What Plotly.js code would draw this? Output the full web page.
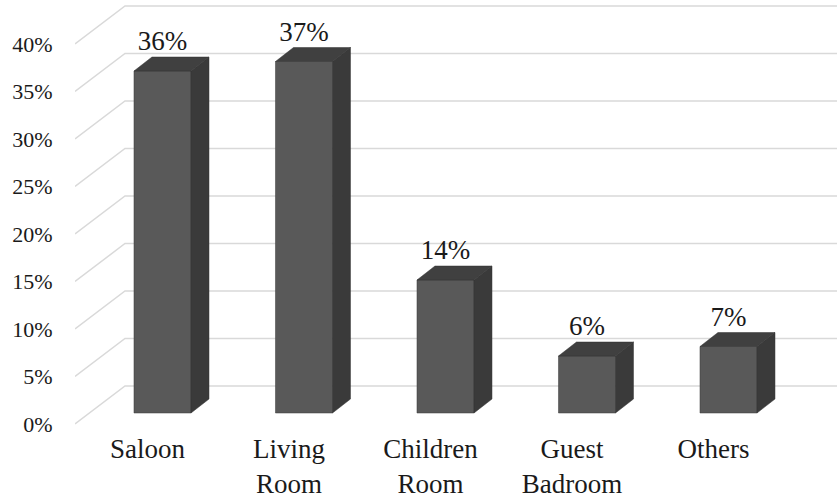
<!DOCTYPE html>
<html>
<head>
<meta charset="utf-8">
<script src="https://cdn.plot.ly/plotly-3.0.1.min.js"></script>
<style>html,body{margin:0;padding:0;background:#fff;}#chart{width:837px;height:502px;}</style>
</head>
<body>
<div id="chart"></div>
<script>
// ---- data ----
const categories = ["Saloon", "Living<br>Room", "Children<br>Room", "Guest<br>Badroom", "Others"];
const values = [36, 37, 14, 6, 7];
const valueLabels = ["36%", "37%", "14%", "6%", "7%"];
const yTicks = [0, 5, 10, 15, 20, 25, 30, 35, 40];
const yTickText = ["0%", "5%", "10%", "15%", "20%", "25%", "30%", "35%", "40%"];

// ---- 3D geometry (in axis units) ----
const X_MIN = -0.5124, X_MAX = 4.8728;
const Y_MIN = -0.6316, Y_MAX = 44.6316;
const WALL_DX = 0.3534, WALL_DY = 4.0;     // depth of the back wall
const BAR_SHIFT = 0.106, BAR_BASE = 1.158; // bars sit at mid depth
const BAR_W = 0.403;
const BAR_DX = 0.127, BAR_DY = 1.47;       // bar depth

const FONT = 'Liberation Serif';
const traces = [];

// gridlines: front-left diagonal + back wall (main axes, drawn below bars)
const gx = [], gy = [];
yTicks.forEach(v => {
  gx.push(X_MIN, X_MIN + WALL_DX, X_MAX + 1, null);
  gy.push(v, v + WALL_DY, v + WALL_DY, null);
});
traces.push({type: 'scatter', mode: 'lines', x: gx, y: gy, hoverinfo: 'skip',
  line: {color: '#d9d9d9', width: 1.5}, showlegend: false, cliponaxis: false});

// front faces (overlay axes, above gridlines)
traces.push({type: 'bar', xaxis: 'x2', yaxis: 'y2',
  x: values.map((v, i) => i + BAR_SHIFT), y: values,
  base: BAR_BASE, width: BAR_W,
  marker: {color: '#595959', line: {color: '#3a3a3a', width: 0.5}},
  showlegend: false, hoverinfo: 'skip'});

// side and top faces
values.forEach((v, i) => {
  const xc = i + BAR_SHIFT, xl = xc - BAR_W / 2, xr = xc + BAR_W / 2;
  const b = BAR_BASE, t = BAR_BASE + v;
  traces.push({type: 'scatter', mode: 'lines', fill: 'toself', fillcolor: '#3a3a3a',
    xaxis: 'x2', yaxis: 'y2',
    x: [xr, xr + BAR_DX, xr + BAR_DX, xr, xr], y: [b, b + BAR_DY, t + BAR_DY, t, b],
    line: {color: '#333333', width: 0.5}, hoverinfo: 'skip', showlegend: false});
  traces.push({type: 'scatter', mode: 'lines', fill: 'toself', fillcolor: '#404040',
    xaxis: 'x2', yaxis: 'y2',
    x: [xl, xl + BAR_DX, xr + BAR_DX, xr, xl], y: [t, t + BAR_DY, t + BAR_DY, t, t],
    line: {color: '#333333', width: 0.5}, hoverinfo: 'skip', showlegend: false});
});

// value labels
traces.push({type: 'scatter', mode: 'text', xaxis: 'x2', yaxis: 'y2',
  x: values.map((v, i) => i + BAR_SHIFT),
  y: values.map(v => BAR_BASE + v + BAR_DY),
  text: valueLabels, textposition: 'top center',
  textfont: {family: FONT, size: 27, color: '#1a1a1a'},
  hoverinfo: 'skip', showlegend: false, cliponaxis: false});

const layout = {
  width: 837, height: 502,
  margin: {l: 75, r: 0, t: 0, b: 72},
  paper_bgcolor: '#ffffff', plot_bgcolor: '#ffffff',
  showlegend: false,
  xaxis: {range: [X_MIN, X_MAX], tickvals: [0, 1, 2, 3, 4], ticktext: categories,
    showgrid: false, zeroline: false, showline: false, ticks: '',
    tickfont: {family: FONT, size: 27, color: '#1a1a1a'}, fixedrange: true},
  yaxis: {range: [Y_MIN, Y_MAX], tickvals: yTicks, ticktext: yTickText,
    showgrid: false, zeroline: false, showline: false,
    ticks: 'outside', ticklen: 17, tickcolor: 'rgba(0,0,0,0)',
    tickfont: {family: FONT, size: 22, color: '#1a1a1a'}, fixedrange: true},
  xaxis2: {range: [X_MIN, X_MAX], overlaying: 'x', visible: false, fixedrange: true},
  yaxis2: {range: [Y_MIN, Y_MAX], overlaying: 'y', visible: false, fixedrange: true}
};

Plotly.newPlot('chart', traces, layout, {displayModeBar: false, staticPlot: true});
</script>
</body>
</html>
